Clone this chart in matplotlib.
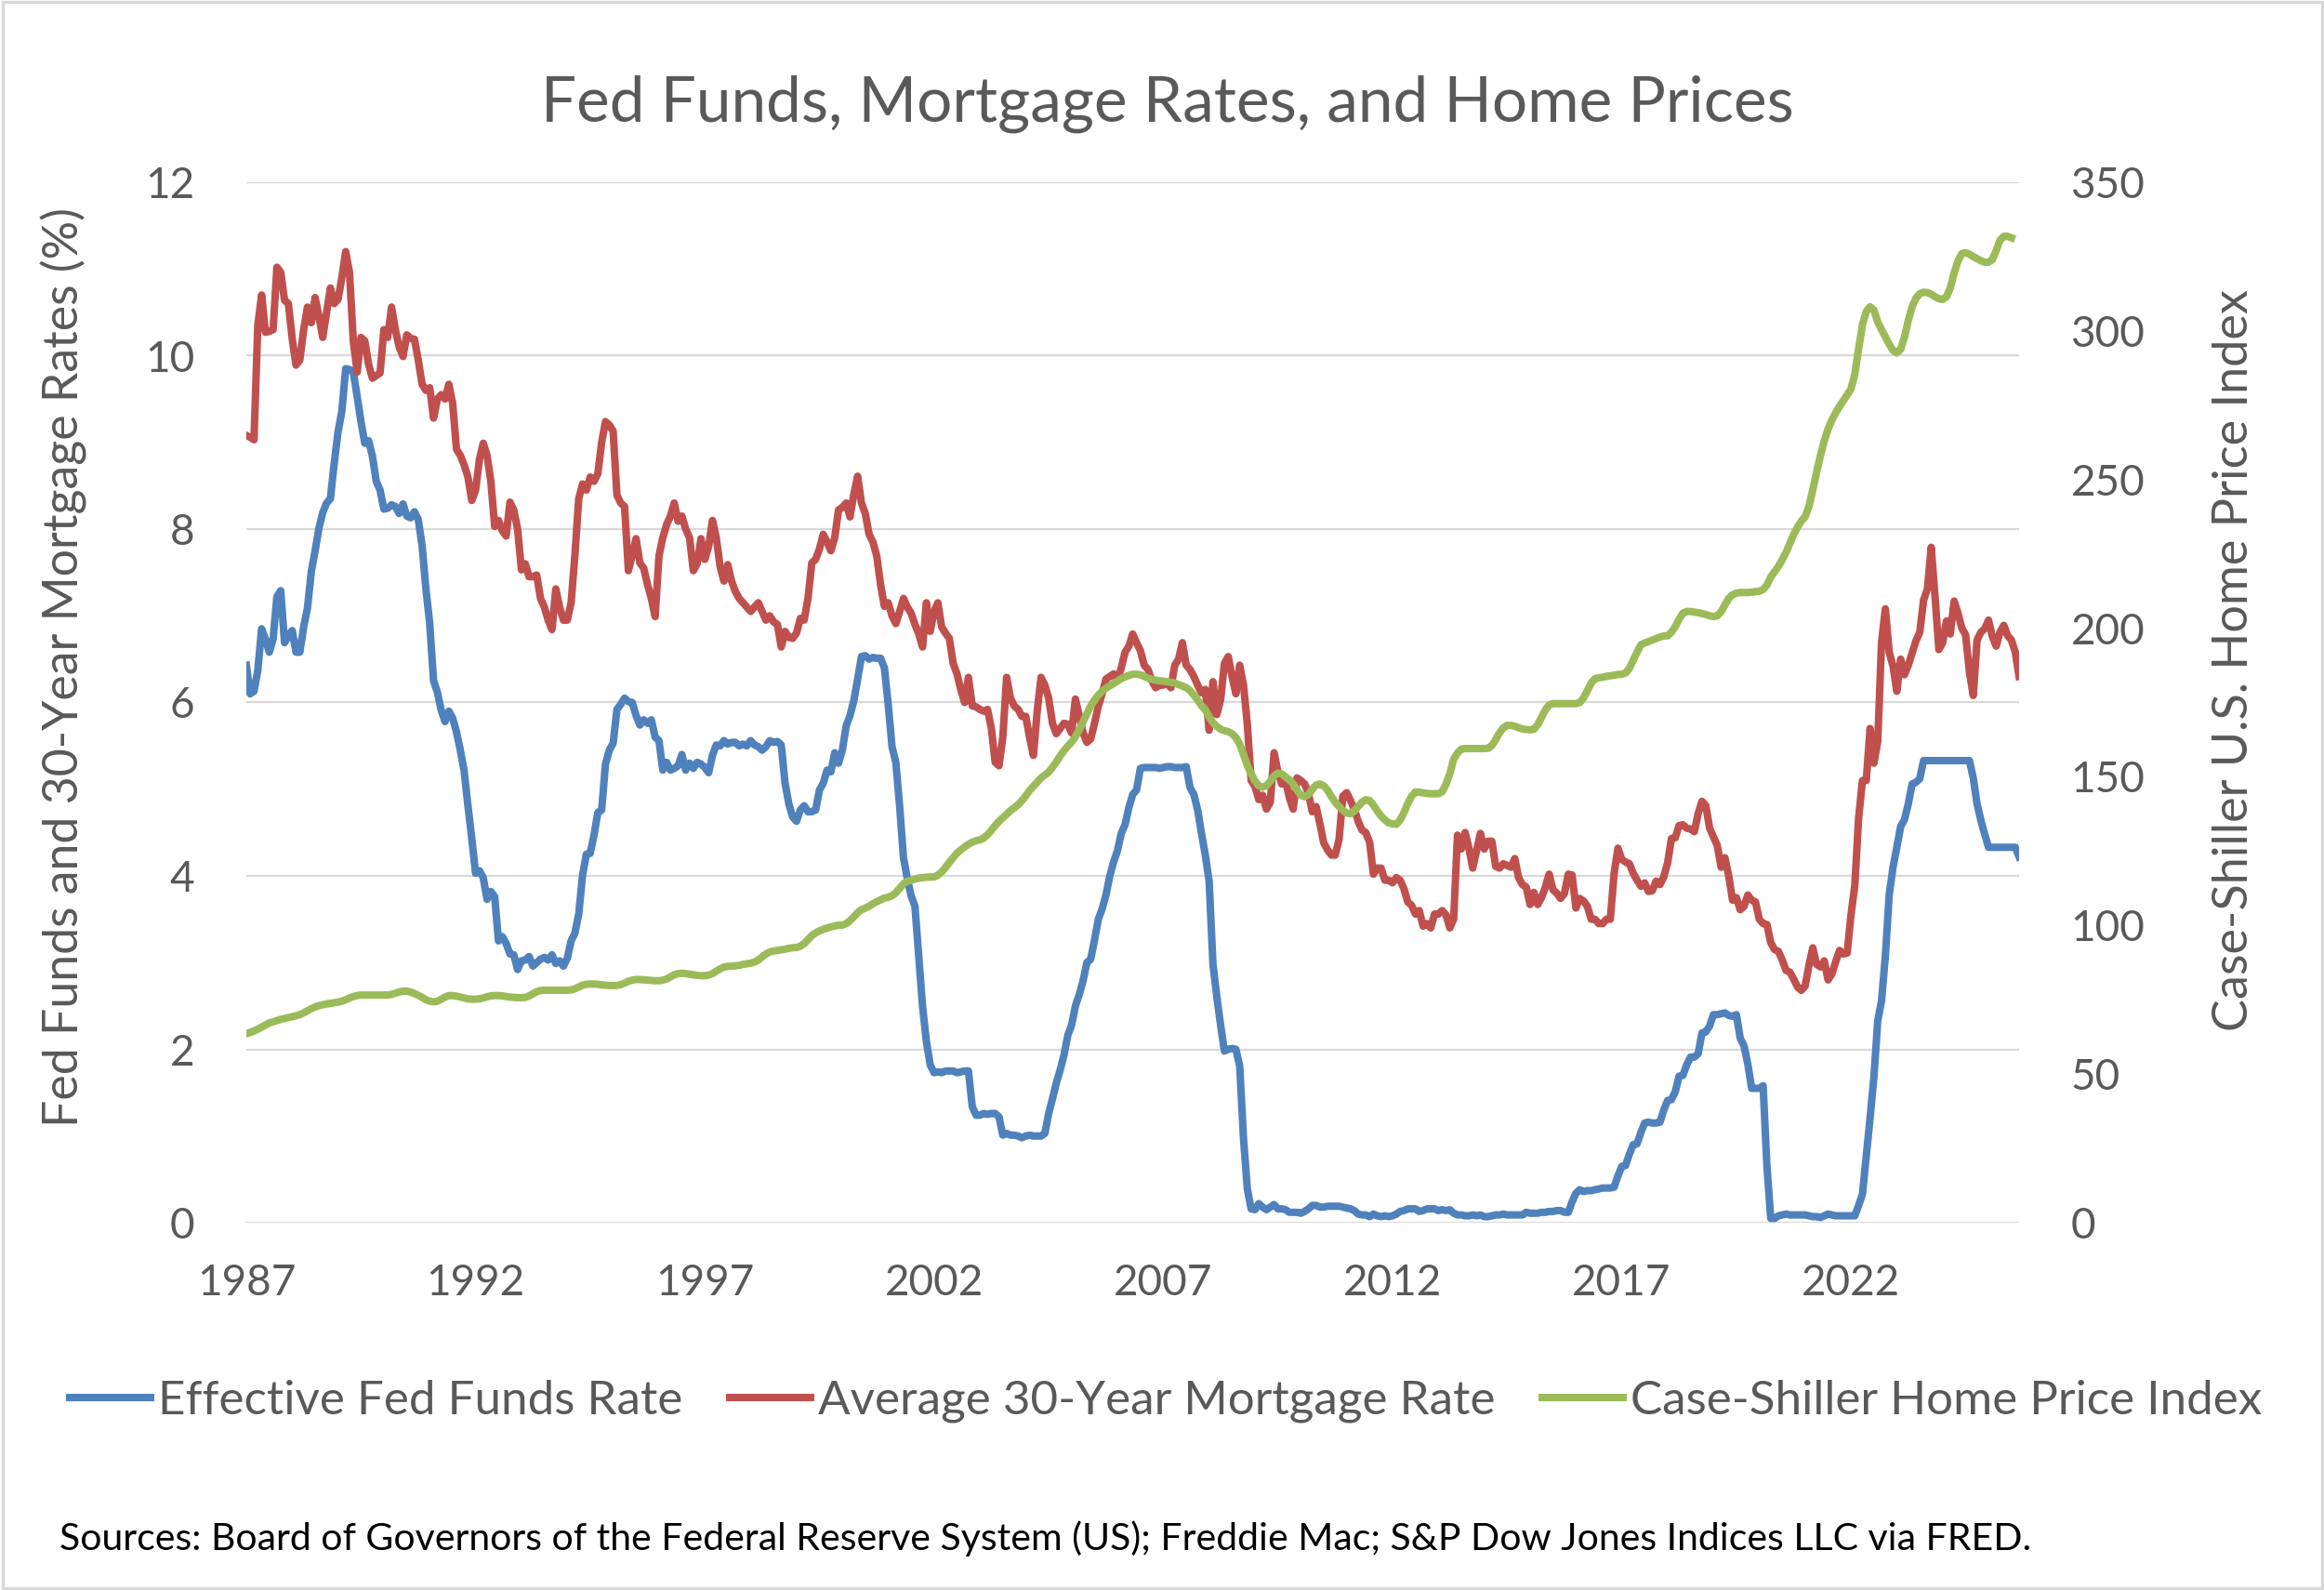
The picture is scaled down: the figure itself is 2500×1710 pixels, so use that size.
import matplotlib
matplotlib.use("Agg")
import matplotlib.pyplot as plt
from matplotlib.lines import Line2D
from matplotlib.patches import Rectangle
import numpy as np

# monthly values, Jan 1987 onward
fed_funds = (
    [6.43, 6.10, 6.13, 6.37, 6.85, 6.73, 6.58, 6.73, 7.22, 7.29, 6.69, 6.77] +  # 1987
    [6.83, 6.58, 6.58, 6.87, 7.09, 7.51, 7.75, 8.01, 8.19, 8.30, 8.35, 8.76] +  # 1988
    [9.12, 9.36, 9.85, 9.84, 9.81, 9.53, 9.24, 8.99, 9.02, 8.84, 8.55, 8.45] +  # 1989
    [8.23, 8.24, 8.28, 8.26, 8.18, 8.29, 8.15, 8.13, 8.20, 8.11, 7.81, 7.31] +  # 1990
    [6.91, 6.25, 6.12, 5.91, 5.78, 5.90, 5.82, 5.66, 5.45, 5.21, 4.81, 4.43] +  # 1991
    [4.03, 4.06, 3.98, 3.73, 3.82, 3.76, 3.25, 3.30, 3.22, 3.10, 3.09, 2.92] +  # 1992
    [3.02, 3.03, 3.07, 2.96, 3.00, 3.04, 3.06, 3.03, 3.09, 2.99, 3.02, 2.96] +  # 1993
    [3.05, 3.25, 3.34, 3.56, 4.01, 4.25, 4.26, 4.47, 4.73, 4.76, 5.29, 5.45] +  # 1994
    [5.53, 5.92, 5.98, 6.05, 6.01, 6.00, 5.85, 5.74, 5.80, 5.76, 5.80, 5.60] +  # 1995
    [5.56, 5.22, 5.31, 5.22, 5.24, 5.27, 5.40, 5.22, 5.30, 5.24, 5.31, 5.29] +  # 1996
    [5.25, 5.19, 5.39, 5.51, 5.50, 5.56, 5.52, 5.54, 5.54, 5.50, 5.52, 5.50] +  # 1997
    [5.56, 5.51, 5.49, 5.45, 5.49, 5.56, 5.54, 5.55, 5.51, 5.07, 4.83, 4.68] +  # 1998
    [4.63, 4.76, 4.81, 4.74, 4.74, 4.76, 4.99, 5.07, 5.22, 5.20, 5.42, 5.30] +  # 1999
    [5.45, 5.73, 5.85, 6.02, 6.27, 6.53, 6.54, 6.50, 6.52, 6.51, 6.51, 6.40] +  # 2000
    [5.98, 5.49, 5.31, 4.80, 4.21, 3.97, 3.77, 3.65, 3.07, 2.49, 2.09, 1.82] +  # 2001
    [1.73, 1.74, 1.73, 1.75, 1.75, 1.75, 1.73, 1.74, 1.75, 1.75, 1.34, 1.24] +  # 2002
    [1.24, 1.26, 1.25, 1.26, 1.26, 1.22, 1.01, 1.03, 1.01, 1.01, 1.00, 0.98] +  # 2003
    [1.00, 1.01, 1.00, 1.00, 1.00, 1.03, 1.26, 1.43, 1.61, 1.76, 1.93, 2.16] +  # 2004
    [2.28, 2.50, 2.63, 2.79, 3.00, 3.04, 3.26, 3.50, 3.62, 3.78, 4.00, 4.16] +  # 2005
    [4.29, 4.49, 4.59, 4.79, 4.94, 4.99, 5.24, 5.25, 5.25, 5.25, 5.25, 5.24] +  # 2006
    [5.25, 5.26, 5.26, 5.25, 5.25, 5.25, 5.26, 5.02, 4.94, 4.76, 4.49, 4.24] +  # 2007
    [3.94, 2.98, 2.61, 2.28, 1.98, 2.00, 2.01, 2.00, 1.81, 0.97, 0.39, 0.16] +  # 2008
    [0.15, 0.22, 0.18, 0.15, 0.18, 0.21, 0.16, 0.16, 0.15, 0.12, 0.12, 0.12] +  # 2009
    [0.11, 0.13, 0.16, 0.20, 0.20, 0.18, 0.18, 0.19, 0.19, 0.19, 0.19, 0.18] +  # 2010
    [0.17, 0.16, 0.14, 0.10, 0.09, 0.09, 0.07, 0.10, 0.08, 0.07, 0.08, 0.07] +  # 2011
    [0.08, 0.10, 0.13, 0.14, 0.16, 0.16, 0.16, 0.13, 0.14, 0.16, 0.16, 0.16] +  # 2012
    [0.14, 0.15, 0.14, 0.15, 0.11, 0.09, 0.09, 0.08, 0.08, 0.09, 0.08, 0.09] +  # 2013
    [0.07, 0.07, 0.08, 0.09, 0.09, 0.10, 0.09, 0.09, 0.09, 0.09, 0.09, 0.12] +  # 2014
    [0.11, 0.11, 0.11, 0.12, 0.12, 0.13, 0.13, 0.14, 0.14, 0.12, 0.12, 0.24] +  # 2015
    [0.34, 0.38, 0.36, 0.37, 0.37, 0.38, 0.39, 0.40, 0.40, 0.40, 0.41, 0.54] +  # 2016
    [0.65, 0.66, 0.79, 0.90, 0.91, 1.04, 1.15, 1.16, 1.15, 1.15, 1.16, 1.30] +  # 2017
    [1.41, 1.42, 1.51, 1.69, 1.70, 1.82, 1.91, 1.91, 1.95, 2.19, 2.20, 2.27] +  # 2018
    [2.40, 2.40, 2.41, 2.42, 2.39, 2.38, 2.40, 2.13, 2.04, 1.83, 1.55, 1.55] +  # 2019
    [1.55, 1.58, 0.65, 0.05, 0.05, 0.08, 0.09, 0.10, 0.09, 0.09, 0.09, 0.09] +  # 2020
    [0.09, 0.08, 0.07, 0.07, 0.06, 0.08, 0.10, 0.09, 0.08, 0.08, 0.08, 0.08] +  # 2021
    [0.08, 0.08, 0.20, 0.33, 0.77, 1.21, 1.68, 2.33, 2.56, 3.08, 3.78, 4.10] +  # 2022
    [4.33, 4.57, 4.65, 4.83, 5.06, 5.08, 5.12, 5.33, 5.33, 5.33, 5.33, 5.33] +  # 2023
    [5.33, 5.33, 5.33, 5.33, 5.33, 5.33, 5.33, 5.33, 5.13, 4.83, 4.64, 4.48] +  # 2024
    [4.33, 4.33, 4.33, 4.33, 4.33, 4.33, 4.33, 4.33, 4.22]                     # 2025
)

mortgage = (
    [9.08, 9.06, 9.03, 10.35, 10.70, 10.27, 10.28, 10.30, 11.02, 10.96, 10.64, 10.60] +  # 1987
    [10.20, 9.89, 9.95, 10.30, 10.56, 10.38, 10.67, 10.45, 10.21, 10.50, 10.78, 10.60] +  # 1988
    [10.65, 10.90, 11.20, 10.96, 10.17, 9.81, 10.21, 10.17, 9.90, 9.74, 9.77, 9.80] +  # 1989
    [10.30, 10.21, 10.56, 10.30, 10.10, 9.99, 10.24, 10.20, 10.19, 9.95, 9.67, 9.60] +  # 1990
    [9.63, 9.28, 9.50, 9.55, 9.50, 9.67, 9.45, 8.92, 8.85, 8.74, 8.60, 8.33] +  # 1991
    [8.45, 8.80, 8.99, 8.85, 8.55, 8.03, 8.10, 7.98, 7.92, 8.31, 8.22, 8.00] +  # 1992
    [7.53, 7.60, 7.45, 7.45, 7.47, 7.20, 7.10, 6.95, 6.84, 7.31, 7.10, 6.95] +  # 1993
    [6.95, 7.15, 7.70, 8.35, 8.52, 8.45, 8.60, 8.55, 8.64, 9.00, 9.24, 9.20] +  # 1994
    [9.13, 8.39, 8.30, 8.26, 7.52, 7.70, 7.89, 7.61, 7.55, 7.36, 7.20, 6.99] +  # 1995
    [7.69, 7.90, 8.05, 8.15, 8.30, 8.09, 8.15, 8.00, 7.90, 7.52, 7.60, 7.89] +  # 1996
    [7.65, 7.80, 8.10, 7.90, 7.57, 7.40, 7.59, 7.40, 7.28, 7.20, 7.15, 7.10] +  # 1997
    [7.05, 7.10, 7.15, 7.05, 6.95, 7.00, 6.93, 6.90, 6.64, 6.82, 6.75, 6.74] +  # 1998
    [6.80, 6.97, 6.95, 7.20, 7.61, 7.65, 7.77, 7.94, 7.85, 7.75, 7.90, 8.22] +  # 1999
    [8.25, 8.30, 8.14, 8.40, 8.61, 8.30, 8.18, 7.94, 7.85, 7.69, 7.36, 7.11] +  # 2000
    [7.15, 7.00, 6.91, 7.05, 7.20, 7.10, 7.03, 6.90, 6.79, 6.64, 7.15, 6.82] +  # 2001
    [7.05, 7.15, 6.87, 6.80, 6.74, 6.45, 6.33, 6.15, 6.00, 6.29, 5.96, 5.95] +  # 2002
    [5.92, 5.90, 5.92, 5.70, 5.31, 5.27, 5.60, 6.29, 6.05, 5.96, 5.92, 5.84] +  # 2003
    [5.84, 5.60, 5.39, 5.90, 6.29, 6.20, 6.05, 5.76, 5.64, 5.70, 5.76, 5.75] +  # 2004
    [5.65, 6.04, 5.85, 5.65, 5.54, 5.58, 5.76, 5.96, 6.10, 6.27, 6.30, 6.33] +  # 2005
    [6.25, 6.40, 6.58, 6.65, 6.79, 6.69, 6.60, 6.43, 6.38, 6.25, 6.17, 6.20] +  # 2006
    [6.20, 6.22, 6.17, 6.43, 6.50, 6.69, 6.43, 6.38, 6.30, 6.20, 6.11, 6.15] +  # 2007
    [5.68, 6.24, 5.86, 6.03, 6.45, 6.53, 6.30, 6.10, 6.43, 6.20, 5.75, 5.10] +  # 2008
    [5.03, 4.88, 4.93, 4.77, 4.85, 5.42, 5.20, 5.06, 5.10, 4.90, 4.77, 5.13] +  # 2009
    [5.10, 5.06, 4.95, 4.74, 4.80, 4.60, 4.38, 4.30, 4.24, 4.24, 4.42, 4.92] +  # 2010
    [4.96, 4.87, 4.77, 4.63, 4.53, 4.50, 4.39, 4.02, 4.09, 4.09, 3.95, 3.95] +  # 2011
    [3.92, 3.98, 3.95, 3.85, 3.70, 3.66, 3.56, 3.60, 3.42, 3.45, 3.40, 3.56] +  # 2012
    [3.56, 3.60, 3.55, 3.40, 3.50, 4.47, 4.31, 4.50, 4.32, 4.09, 4.29, 4.49] +  # 2013
    [4.31, 4.40, 4.40, 4.11, 4.09, 4.14, 4.12, 4.10, 4.20, 3.98, 3.90, 3.87] +  # 2014
    [3.67, 3.81, 3.67, 3.75, 3.87, 4.02, 3.84, 3.80, 3.74, 3.80, 4.02, 4.01] +  # 2015
    [3.63, 3.74, 3.71, 3.65, 3.50, 3.50, 3.45, 3.45, 3.50, 3.50, 4.03, 4.32] +  # 2016
    [4.19, 4.16, 4.14, 4.03, 3.95, 3.88, 3.92, 3.82, 3.83, 3.94, 3.90, 3.99] +  # 2017
    [4.15, 4.43, 4.44, 4.58, 4.59, 4.55, 4.54, 4.51, 4.72, 4.86, 4.81, 4.55] +  # 2018
    [4.45, 4.35, 4.10, 4.21, 4.00, 3.72, 3.75, 3.61, 3.65, 3.78, 3.72, 3.70] +  # 2019
    [3.50, 3.45, 3.44, 3.23, 3.15, 3.13, 3.03, 2.91, 2.89, 2.81, 2.72, 2.68] +  # 2020
    [2.73, 2.97, 3.17, 2.98, 2.95, 3.02, 2.80, 2.87, 3.01, 3.14, 3.10, 3.11] +  # 2021
    [3.55, 3.89, 4.67, 5.10, 5.10, 5.70, 5.30, 5.55, 6.70, 7.08, 6.58, 6.42] +  # 2022
    [6.13, 6.50, 6.32, 6.43, 6.57, 6.71, 6.81, 7.18, 7.31, 7.79, 7.22, 6.61] +  # 2023
    [6.69, 6.94, 6.79, 7.17, 7.03, 6.86, 6.78, 6.35, 6.08, 6.72, 6.81, 6.85] +  # 2024
    [6.95, 6.76, 6.65, 6.81, 6.89, 6.77, 6.72, 6.58, 6.30]                       # 2025
)

case_shiller = (
    [63.6, 64.0, 64.5, 65.1, 65.8, 66.5, 67.2, 67.6, 68.0, 68.4, 68.7, 69.0] +  # 1987
    [69.3, 69.6, 70.0, 70.6, 71.3, 72.0, 72.6, 73.0, 73.3, 73.6, 73.8, 74.0] +  # 1988
    [74.2, 74.5, 75.0, 75.6, 76.1, 76.4, 76.6, 76.6, 76.6, 76.6, 76.6, 76.6] +  # 1989
    [76.6, 76.6, 76.8, 77.2, 77.6, 77.9, 77.9, 77.6, 77.1, 76.5, 75.8, 75.0] +  # 1990
    [74.5, 74.3, 74.5, 75.2, 75.9, 76.4, 76.4, 76.2, 75.9, 75.6, 75.3, 75.2] +  # 1991
    [75.2, 75.3, 75.6, 76.0, 76.3, 76.4, 76.4, 76.3, 76.1, 75.9, 75.8, 75.7] +  # 1992
    [75.7, 75.8, 76.3, 77.0, 77.7, 78.1, 78.2, 78.2, 78.2, 78.2, 78.2, 78.2] +  # 1993
    [78.2, 78.3, 78.7, 79.3, 79.9, 80.2, 80.3, 80.3, 80.2, 80.0, 79.9, 79.8] +  # 1994
    [79.8, 79.8, 80.1, 80.6, 81.2, 81.6, 81.8, 81.8, 81.7, 81.6, 81.5, 81.4] +  # 1995
    [81.4, 81.6, 82.0, 82.7, 83.4, 83.8, 83.9, 83.8, 83.6, 83.4, 83.2, 83.1] +  # 1996
    [83.1, 83.3, 83.8, 84.6, 85.4, 86.0, 86.2, 86.3, 86.4, 86.6, 86.9, 87.1] +  # 1997
    [87.3, 87.7, 88.4, 89.4, 90.4, 91.1, 91.4, 91.6, 91.8, 92.0, 92.3, 92.5] +  # 1998
    [92.6, 93.0, 93.9, 95.2, 96.6, 97.5, 98.2, 98.7, 99.1, 99.5, 99.8, 100.1] +  # 1999
    [100.1, 100.6, 101.6, 102.9, 104.3, 105.3, 105.8, 106.5, 107.3, 108.0, 108.6, 109.2] +  # 2000
    [109.5, 110.0, 111.0, 112.5, 114.0, 114.9, 115.2, 115.6, 115.9, 116.1, 116.2, 116.3] +  # 2001
    [116.3, 116.9, 118.0, 119.5, 121.2, 122.8, 124.3, 125.4, 126.4, 127.3, 128.0, 128.5] +  # 2002
    [128.8, 129.4, 130.5, 132.0, 133.6, 135.0, 136.2, 137.4, 138.6, 139.6, 140.6, 142.0] +  # 2003
    [143.6, 145.4, 146.8, 148.2, 149.6, 150.6, 151.6, 153.2, 155.0, 157.0, 158.8, 160.3] +  # 2004
    [161.7, 163.5, 165.8, 168.5, 171.2, 173.8, 175.8, 177.5, 178.8, 179.8, 180.6, 181.4] +  # 2005
    [182.2, 183.0, 183.6, 184.1, 184.5, 184.5, 184.3, 183.8, 183.2, 182.8, 182.5, 182.3] +  # 2006
    [182.2, 182.0, 181.8, 181.5, 181.0, 180.5, 180.0, 179.0, 177.5, 175.8, 173.9, 172.6] +  # 2007
    [170.2, 168.2, 167.0, 166.0, 165.5, 165.2, 164.5, 163.2, 161.0, 157.5, 153.8, 151.0] +  # 2008
    [148.6, 147.0, 146.5, 147.0, 148.5, 150.3, 151.2, 151.0, 150.0, 149.0, 147.6, 145.5] +  # 2009
    [143.8, 143.3, 144.0, 145.8, 147.2, 147.6, 147.0, 145.5, 143.3, 141.5, 140.0, 138.7] +  # 2010
    [137.8, 137.6, 138.5, 140.0, 141.5, 142.3, 142.0, 140.5, 138.5, 136.8, 135.5, 134.5] +  # 2011
    [134.2, 134.0, 135.5, 138.0, 141.0, 143.5, 144.9, 144.8, 144.6, 144.4, 144.3, 144.3] +  # 2012
    [144.3, 145.0, 147.5, 151.0, 155.9, 158.0, 159.3, 159.5, 159.5, 159.5, 159.5, 159.5] +  # 2013
    [159.5, 159.6, 160.5, 162.5, 164.8, 166.5, 167.3, 167.3, 167.0, 166.5, 166.1, 165.9] +  # 2014
    [165.8, 166.0, 167.5, 170.0, 172.5, 174.2, 174.6, 174.6, 174.6, 174.6, 174.6, 174.6] +  # 2015
    [174.6, 175.0, 176.5, 179.0, 181.5, 183.0, 183.3, 183.5, 183.8, 184.0, 184.2, 184.4] +  # 2016
    [184.5, 184.9, 186.5, 189.2, 191.9, 194.4, 195.0, 195.5, 196.0, 196.5, 197.0, 197.4] +  # 2017
    [197.4, 198.6, 200.5, 203.0, 205.0, 205.6, 205.6, 205.4, 205.2, 204.9, 204.6, 204.2] +  # 2018
    [203.9, 204.2, 205.5, 207.8, 210.0, 211.2, 211.8, 212.0, 212.0, 212.0, 212.1, 212.3] +  # 2019
    [212.4, 213.0, 214.5, 217.2, 219.0, 220.8, 223.0, 225.5, 228.5, 231.5, 234.0, 236.0] +  # 2020
    [237.5, 241.0, 246.5, 252.5, 258.0, 263.0, 267.0, 270.0, 272.5, 274.6, 276.5, 278.5] +  # 2021
    [280.5, 285.4, 294.0, 302.1, 306.5, 308.1, 307.0, 303.0, 300.4, 298.0, 295.5, 293.5] +  # 2022
    [292.6, 293.8, 298.0, 303.5, 308.1, 311.0, 312.5, 313.0, 312.9, 312.3, 311.5, 310.8] +  # 2023
    [310.6, 311.5, 314.5, 319.5, 323.5, 326.0, 326.3, 325.8, 325.0, 324.3, 323.6, 323.1] +  # 2024
    [323.1, 324.0, 327.0, 330.5, 331.8, 331.8, 331.3]                                      # 2025
)

year_ticks = [1987, 1992, 1997, 2002, 2007, 2012, 2017, 2022]
left_ticks = [0, 2, 4, 6, 8, 10, 12]
right_ticks = [0, 50, 100, 150, 200, 250, 300, 350]

labels = ["Effective Fed Funds Rate", "Average 30-Year Mortgage Rate",
          "Case-Shiller Home Price Index"]
colors = ["#4F81BD", "#C0504D", "#9BBB59"]

t_rates = 1987 + np.arange(len(fed_funds)) / 12.0
t_hpi = 1987 + np.arange(len(case_shiller)) / 12.0

plt.rcParams['font.family'] = ['Lato', 'DejaVu Sans']
grey = "#595959"
W, H = 2500, 1710
fig = plt.figure(figsize=(12.5, 8.55), dpi=200)
fig.patches.append(Rectangle((0.001, 0.001), 0.998, 0.998, transform=fig.transFigure,
                             fill=False, edgecolor="#D9D9D9", linewidth=1.2))

ax = fig.add_axes([265 / W, 1 - 1315 / H, (2172 - 265) / W, (1315 - 196) / H])
ax2 = ax.twinx()

lw = 2.9
ax.plot(t_rates, fed_funds, color=colors[0], lw=lw, solid_joinstyle='round', zorder=3)
ax.plot(t_rates, mortgage, color=colors[1], lw=lw, solid_joinstyle='round', zorder=3)
ax2.plot(t_hpi, case_shiller, color=colors[2], lw=lw, solid_joinstyle='round', zorder=3)

ax.set_xlim(1987, t_rates[-1])
ax.set_ylim(0, 12)
ax2.set_ylim(0, 350)
ax.set_yticks(left_ticks)
ax2.set_yticks(right_ticks)
ax.set_xticks(year_ticks)
ax.set_xticklabels([str(y) for y in year_ticks])

ax.grid(axis='y', color="#D9D9D9", lw=0.8)
ax.set_axisbelow(True)
for a in (ax, ax2):
    for s in a.spines.values():
        s.set_visible(False)
    a.tick_params(length=0, colors=grey, labelsize=16.5)
ax.tick_params(axis='y', pad=20)
ax2.tick_params(axis='y', pad=20)
ax.tick_params(axis='x', pad=16)

fig.text(1256 / W, 1 - 112 / H, "Fed Funds, Mortgage Rates, and Home Prices",
         ha='center', va='center', fontsize=24.3, color=grey)
fig.text(69 / W, 1 - 717 / H, "Fed Funds and 30-Year Mortgage Rates (%)",
         rotation=90, ha='center', va='center', fontsize=18.7, color=grey)
fig.text(2404 / W, 1 - 710 / H, "Case-Shiller U.S. Home Price Index",
         rotation=90, ha='center', va='center', fontsize=18.8, color=grey)

handles = [Line2D([], [], color=c, lw=lw) for c in colors]
leg = fig.legend(handles, labels, loc='center', bbox_to_anchor=(1254 / W, 1 - 1507 / H),
                 ncol=3, frameon=False, fontsize=18.4, handlelength=1.7,
                 handletextpad=0.15, columnspacing=1.0, labelcolor=grey)

fig.text(64 / W, 1 - 1655 / H,
         "Sources: Board of Governors of the Federal Reserve System (US); Freddie Mac; "
         "S&P Dow Jones Indices LLC via FRED.",
         ha='left', va='center', fontsize=14.75, color="#000000")

fig.savefig("out.png", dpi=200)
